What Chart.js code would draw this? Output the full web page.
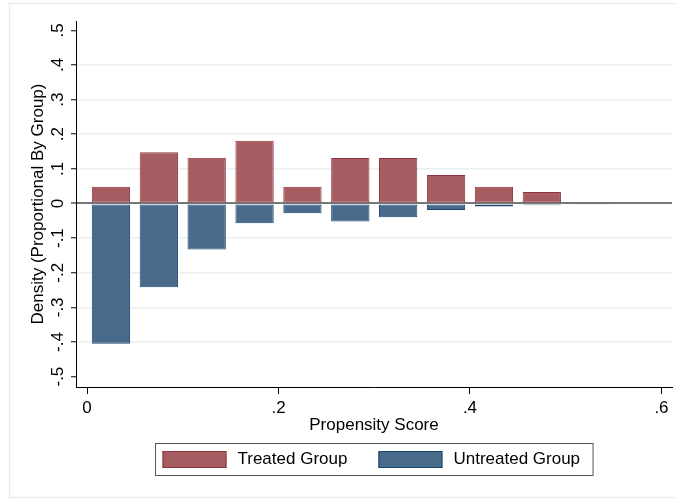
<!DOCTYPE html>
<html>
<head>
<meta charset="utf-8">
<script src="https://cdn.jsdelivr.net/npm/chart.js@4.4.0/dist/chart.umd.min.js"></script>
<style>
  body { margin: 0; background: #fff; }
  canvas { display: block; }
</style>
</head>
<body>
<canvas id="bar_chart" width="676" height="502"></canvas>
<script>
// bins of width .05, values are density proportional by group
const binCenters = [0.025, 0.075, 0.125, 0.175, 0.225, 0.275, 0.325, 0.375, 0.425, 0.475, 0.525];
const treated = [0.048, 0.148, 0.132, 0.181, 0.048, 0.131, 0.131, 0.082, 0.048, 0.033, 0];
const untreated = [-0.405, -0.242, -0.133, -0.057, -0.028, -0.052, -0.040, -0.019, -0.009, -0.005, -0.002];
const xTicks = [0, 0.2, 0.4, 0.6];
const yTicks = [-0.5, -0.4, -0.3, -0.2, -0.1, 0, 0.1, 0.2, 0.3, 0.4, 0.5];
const seriesLabels = ["Treated Group", "Untreated Group"];

const FONT = "'Liberation Sans', Arial, sans-serif";

// stata style number labels: .2 instead of 0.2
const fmt = (v) => String(v).replace(/^(-?)0\./, "$1.");

const framePlugin = {
  id: "frame",
  beforeDraw(chart) {
    const ctx = chart.ctx;
    ctx.save();
    ctx.fillStyle = "#fff";
    ctx.fillRect(0, 0, chart.width, chart.height);
    ctx.strokeStyle = "#e4edef";
    ctx.lineWidth = 1.5;
    ctx.strokeRect(9.5, 3.5, 680, 494);
    ctx.restore();
  }
};

// legend in a box under the axis title
const legendBox = {
  id: "legendBox",
  afterDraw(chart) {
    const ctx = chart.ctx;
    const area = chart.chartArea;
    const sets = chart.data.datasets;
    ctx.save();
    ctx.font = "17px " + FONT;
    const sw = 64, sh = 17, gapText = 11, gapItem = 31, padL = 7, padR = 13;
    const widths = sets.map((d) => ctx.measureText(d.label).width);
    let total = padL + padR + gapItem * (sets.length - 1);
    widths.forEach((w) => { total += sw + gapText + w; });
    const left = Math.round((area.left + area.right) / 2 - total / 2) + 0.5;
    const top = 443.5, h = 32;
    ctx.strokeStyle = "#555";
    ctx.lineWidth = 1;
    ctx.strokeRect(left, top, total, h);
    let x = left + padL;
    const midY = top + h / 2;
    sets.forEach((d, i) => {
      ctx.fillStyle = d.backgroundColor;
      ctx.fillRect(x, midY - sh / 2, sw, sh);
      ctx.strokeStyle = d.borderColor;
      ctx.strokeRect(x + 0.5, midY - sh / 2 + 0.5, sw - 1, sh - 1);
      ctx.fillStyle = "#000";
      ctx.textBaseline = "middle";
      ctx.textAlign = "left";
      ctx.fillText(d.label, x + sw + gapText, midY);
      x += sw + gapText + widths[i] + gapItem;
    });
    ctx.restore();
  }
};

const ctx1 = document.getElementById("bar_chart").getContext("2d");
const chart1 = new Chart(ctx1, {
  type: "bar",
  data: {
    datasets: [
      {
        label: seriesLabels[0],
        data: binCenters.map((x, i) => ({ x: x, y: treated[i] })),
        backgroundColor: "rgb(166, 93, 98)",
        borderColor: "rgb(144, 53, 59)",
        borderWidth: 1,
        borderSkipped: false,
        grouped: false,
        barPercentage: 0.8,
        categoryPercentage: 1
      },
      {
        label: seriesLabels[1],
        data: binCenters.map((x, i) => ({ x: x, y: untreated[i] })),
        backgroundColor: "rgb(72, 107, 140)",
        borderColor: "rgb(26, 71, 111)",
        borderWidth: 1,
        borderSkipped: false,
        grouped: false,
        barPercentage: 0.8,
        categoryPercentage: 1
      }
    ]
  },
  options: {
    responsive: false,
    animation: false,
    devicePixelRatio: 1,
    layout: { padding: { left: 28, top: 21, right: 4, bottom: 66 } },
    plugins: {
      legend: { display: false },
      tooltip: { enabled: false }
    },
    scales: {
      x: {
        type: "linear",
        offset: false,
        min: -0.0115,
        max: 0.611,
        afterBuildTicks: (scale) => { scale.ticks = xTicks.map((v) => ({ value: v })); },
        afterFit: (scale) => { scale.height = 49; },
        grid: { offset: false, drawOnChartArea: false, tickLength: 7, tickColor: "#000" },
        border: { color: "#000", width: 1 },
        ticks: {
          padding: 4,
          maxRotation: 0,
          color: "#000",
          font: { family: FONT, size: 17 },
          callback: (v) => fmt(v)
        },
        title: {
          display: true,
          text: "Propensity Score",
          color: "#000",
          padding: 0,
          font: { family: FONT, size: 17 }
        }
      },
      y: {
        min: -0.530,
        max: 0.527,
        afterBuildTicks: (scale) => { scale.ticks = yTicks.map((v) => ({ value: v })); },
        afterFit: (scale) => { scale.width = 48; },
        grid: {
          color: (c) => {
            const v = c.tick ? c.tick.value : null;
            if (v === 0) return "#787878";
            if (v === 0.5 || v === -0.5) return "rgba(0,0,0,0)";
            return "#e8f0f1";
          },
          lineWidth: (c) => (c.tick && c.tick.value === 0 ? 2 : 1.5),
          tickLength: 5,
          tickColor: "#000",
          tickWidth: 1
        },
        border: { color: "#000", width: 1 },
        ticks: {
          padding: 3,
          minRotation: 90,
          maxRotation: 90,
          crossAlign: "center",
          color: "#000",
          font: { family: FONT, size: 17 },
          callback: (v) => fmt(v)
        },
        title: {
          display: true,
          text: "Density (Proportional By Group)",
          color: "#000",
          padding: 0,
          font: { family: FONT, size: 17 }
        }
      }
    }
  },
  plugins: [framePlugin, legendBox]
});
</script>
</body>
</html>
